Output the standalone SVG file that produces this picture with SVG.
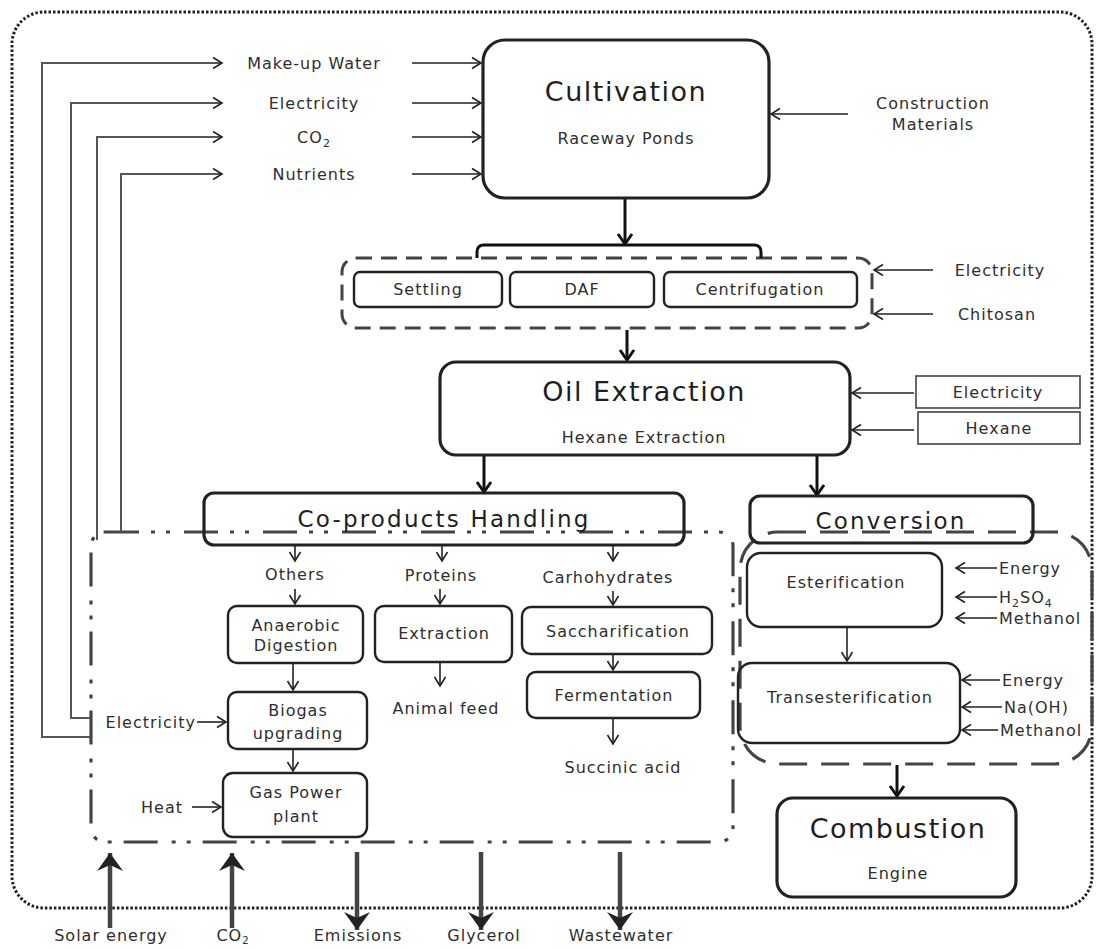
<svg xmlns="http://www.w3.org/2000/svg" width="1097" height="949" viewBox="0 0 1097 949">
<style>
text{font-family:"DejaVu Sans","Liberation Sans",sans-serif;fill:#2e2e2e;text-anchor:middle}
.s{font-size:16px;letter-spacing:1px}
.b{font-size:27px;letter-spacing:1.5px;fill:#1e1e1e}
.m{font-size:23px;letter-spacing:2.2px;fill:#1e1e1e}
.box{fill:none;stroke:#222;stroke-width:3.2}
.sbox{fill:none;stroke:#222;stroke-width:2.4}
.ibox{fill:none;stroke:#444;stroke-width:1.6}
.thin{fill:none;stroke:#222;stroke-width:1.6;marker-end:url(#ah)}
.fb{fill:none;stroke:#555;stroke-width:2}
.thk{fill:none;stroke:#111;stroke-width:3;marker-end:url(#ahk)}
.big{fill:none;stroke:#444;stroke-width:4.5;marker-end:url(#ahs)}
.l{text-anchor:start}
.r{text-anchor:end}
</style>
<defs>
<marker id="ah" markerUnits="userSpaceOnUse" markerWidth="14" markerHeight="14" refX="11" refY="7" orient="auto"><path d="M2,1.5 L11,7 L2,12.5" fill="none" stroke="#222" stroke-width="1.6"/></marker>
<marker id="ahk" markerUnits="userSpaceOnUse" markerWidth="16" markerHeight="18" refX="12" refY="9" orient="auto"><path d="M2,2 L12,9 L2,16" fill="none" stroke="#111" stroke-width="3"/></marker>
<marker id="ahs" markerUnits="userSpaceOnUse" markerWidth="20" markerHeight="28" refX="18" refY="14" orient="auto"><path d="M0,1 L18,14 L0,27 L6,14 z" fill="#222"/></marker>
</defs>
<rect width="1097" height="949" fill="#fff"/>
<g id="boundary"><rect x="12" y="12" width="1080" height="896" rx="32" fill="none" stroke="#222" stroke-width="3" stroke-dasharray="2.5 2"/></g>
<g id="coproducts-group"><rect x="91" y="532" width="642" height="310" rx="14" fill="none" stroke="#444" stroke-width="3.2" stroke-dasharray="34 12 4 11 4 14"/></g>
<g id="conversion-group"><rect x="740" y="532" width="352" height="232" rx="38" fill="none" stroke="#444" stroke-width="3.2" stroke-dasharray="28 14"/></g>
<g id="harvest-group"><rect x="342" y="258" width="530" height="70" rx="14" fill="none" stroke="#444" stroke-width="3" stroke-dasharray="16 9"/></g>
<g id="connectors">
<path class="fb" d="M90,737 H42 V63 H222" marker-end="url(#ah)"/>
<path class="fb" d="M90,718 H71 V103 H222" marker-end="url(#ah)"/>
<path class="fb" d="M97,540 V137 H222" marker-end="url(#ah)"/>
<path class="fb" d="M121,532 V174 H222" marker-end="url(#ah)"/>
<path class="thin" d="M412,63 H481"/>
<path class="thin" d="M412,103 H481"/>
<path class="thin" d="M412,137 H481"/>
<path class="thin" d="M412,174 H481"/>
<path class="thin" d="M848,114 H771"/>
<path class="thk" d="M625,198 V244"/>
<path fill="none" stroke="#111" stroke-width="3" d="M477,258 V252 Q477,245 484,245 H754 Q761,245 761,252 V258"/>
<path class="thin" d="M933,270 H874"/>
<path class="thin" d="M933,314 H874"/>
<path class="thk" d="M627,330 V360"/>
<path class="thin" d="M914,393 H852"/>
<path class="thin" d="M914,430 H852"/>
<path class="thk" d="M484,455 V492"/>
<path class="thk" d="M817,455 V495"/>
<path class="thin" d="M295,546 V561"/>
<path class="thin" d="M295,589 V604"/>
<path class="thin" d="M293,663 V690"/>
<path class="thin" d="M197,722 H226"/>
<path class="thin" d="M293,749 V771"/>
<path class="thin" d="M192,807 H221"/>
<path class="thin" d="M442,546 V561"/>
<path class="thin" d="M440,589 V604"/>
<path class="thin" d="M440,662 V686"/>
<path class="thin" d="M613,546 V561"/>
<path class="thin" d="M613,591 V605"/>
<path class="thin" d="M613,654 V670"/>
<path class="thin" d="M613,718 V744"/>
<path class="thin" d="M847,627 V661"/>
<path class="thin" d="M997,568 H956"/>
<path class="thin" d="M997,597 H956"/>
<path class="thin" d="M997,618 H956"/>
<path class="thin" d="M1000,680 H962"/>
<path class="thin" d="M1002,707 H962"/>
<path class="thin" d="M998,730 H962"/>
<path class="thk" d="M897,765 V796"/>
<path class="big" d="M110,928 V853"/>
<path class="big" d="M232,928 V853"/>
<path class="big" d="M357,852 V930"/>
<path class="big" d="M481,852 V930"/>
<path class="big" d="M620,852 V930"/>
</g>
<g id="inputs-left">
<text class="s" x="314" y="69">Make-up Water</text>
<text class="s" x="314" y="109">Electricity</text>
<text class="s" x="314" y="143">CO<tspan font-size="11" dy="4">2</tspan></text>
<text class="s" x="314" y="180">Nutrients</text>
</g>
<g id="cultivation"><rect class="box" x="483" y="40" width="286" height="158" rx="22"/>
<text class="b" x="626" y="101">Cultivation</text><text class="s" x="626" y="144">Raceway Ponds</text></g>
<g id="construction"><text class="s" x="933" y="109">Construction</text><text class="s" x="933" y="130">Materials</text></g>
<g id="settling"><rect class="sbox" x="354" y="272" width="148" height="35" rx="6"/><text class="s" x="428" y="295">Settling</text></g>
<g id="daf"><rect class="sbox" x="510" y="272" width="144" height="35" rx="6"/><text class="s" x="582" y="295">DAF</text></g>
<g id="centrifugation"><rect class="sbox" x="664" y="272" width="193" height="35" rx="6"/><text class="s" x="760" y="295">Centrifugation</text></g>
<g id="harvest-inputs"><text class="s" x="1000" y="276">Electricity</text><text class="s" x="997" y="320">Chitosan</text></g>
<g id="oil-extraction"><rect class="box" x="440" y="362" width="410" height="93" rx="16"/>
<text class="b" x="644" y="401">Oil Extraction</text><text class="s" x="644" y="443">Hexane Extraction</text></g>
<g id="oil-electricity"><rect class="ibox" x="916" y="376" width="164" height="32"/><text class="s" x="998" y="398">Electricity</text></g>
<g id="oil-hexane"><rect class="ibox" x="918" y="412" width="162" height="32"/><text class="s" x="999" y="434">Hexane</text></g>
<g id="coproducts"><rect class="box" x="204" y="493" width="480" height="52" rx="10"/><text class="m" x="444" y="527">Co-products Handling</text></g>
<g id="conversion"><rect class="box" x="750" y="496" width="283" height="47" rx="10"/><text class="m" x="891" y="529">Conversion</text></g>
<g id="others"><text class="s" x="295" y="580">Others</text></g>
<g id="anaerobic"><rect class="sbox" x="228" y="606" width="135" height="57" rx="9"/><text class="s" x="296" y="631">Anaerobic</text><text class="s" x="296" y="651">Digestion</text></g>
<g id="biogas"><rect class="sbox" x="228" y="692" width="139" height="57" rx="9"/><text class="s" x="298" y="716">Biogas</text><text class="s" x="298" y="739">upgrading</text></g>
<g id="gas-power"><rect class="sbox" x="223" y="773" width="144" height="64" rx="10"/><text class="s" x="296" y="798">Gas Power</text><text class="s" x="296" y="822">plant</text></g>
<g id="electricity-in"><text class="s r" x="196" y="728">Electricity</text></g>
<g id="heat-in"><text class="s r" x="183" y="813">Heat</text></g>
<g id="proteins"><text class="s" x="441" y="581">Proteins</text></g>
<g id="extraction"><rect class="sbox" x="375" y="606" width="137" height="56" rx="9"/><text class="s" x="444" y="639">Extraction</text></g>
<g id="animal-feed"><text class="s" x="446" y="714">Animal feed</text></g>
<g id="carbohydrates"><text class="s" x="608" y="583">Carhohydrates</text></g>
<g id="saccharification"><rect class="sbox" x="522" y="607" width="190" height="47" rx="9"/><text class="s" x="618" y="637">Saccharification</text></g>
<g id="fermentation"><rect class="sbox" x="527" y="672" width="173" height="46" rx="9"/><text class="s" x="614" y="701">Fermentation</text></g>
<g id="succinic"><text class="s" x="623" y="773">Succinic acid</text></g>
<g id="esterification"><rect class="sbox" x="747" y="553" width="195" height="74" rx="14"/><text class="s" x="846" y="588">Esterification</text></g>
<g id="transesterification"><rect class="sbox" x="738" y="663" width="222" height="80" rx="14"/><text class="s" x="850" y="703">Transesterification</text></g>
<g id="ester-inputs"><text class="s l" x="999" y="574">Energy</text><text class="s l" x="999" y="603">H<tspan font-size="11" dy="4">2</tspan><tspan dy="-4">SO</tspan><tspan font-size="11" dy="4">4</tspan></text><text class="s l" x="999" y="624">Methanol</text></g>
<g id="trans-inputs"><text class="s l" x="1002" y="686">Energy</text><text class="s l" x="1004" y="713">Na(OH)</text><text class="s l" x="1000" y="736">Methanol</text></g>
<g id="combustion"><rect class="box" x="777" y="798" width="239" height="99" rx="16"/><text class="b" x="898" y="838">Combustion</text><text class="s" x="898" y="879">Engine</text></g>
<g id="bottom-labels">
<text class="s" x="111" y="941">Solar energy</text>
<text class="s" x="233" y="941">CO<tspan font-size="10" dy="3">2</tspan></text>
<text class="s" x="358" y="941">Emissions</text>
<text class="s" x="484" y="941">Glycerol</text>
<text class="s" x="621" y="941">Wastewater</text>
</g>
</svg>
